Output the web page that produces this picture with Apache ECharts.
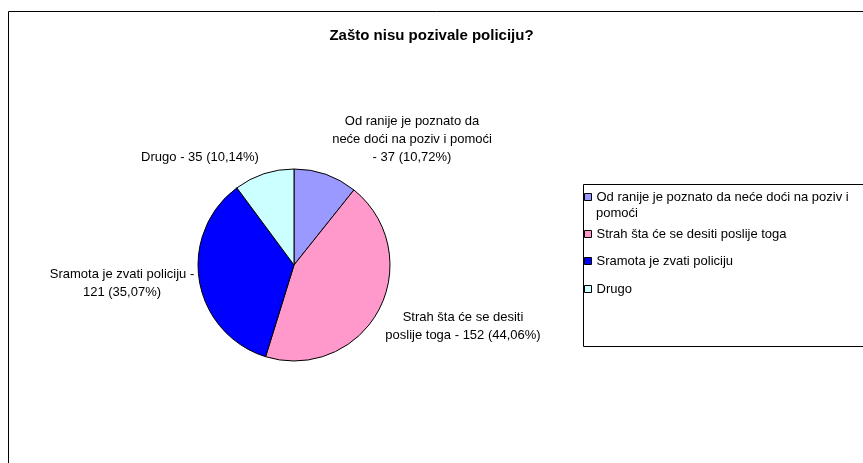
<!DOCTYPE html>
<html>
<head>
<meta charset="utf-8">
<title>Zašto nisu pozivale policiju?</title>
<script src="https://cdn.jsdelivr.net/npm/echarts@6/dist/echarts.min.js"></script>
<style>
    html, body {margin: 0; padding: 0; background: #fff;}
    #chart {width: 863px; height: 463px;}
</style>
</head>
<body>
<div id="chart"></div>
<script>
// podaci
var categories = [
    'Od ranije je poznato da neće doći na poziv i pomoći',
    'Strah šta će se desiti poslije toga',
    'Sramota je zvati policiju',
    'Drugo'
];
var counts = [37, 152, 121, 35];
var colors = ['#9999FF', '#FF99CC', '#0000FF', '#CCFFFF'];

// koliko riječi ide u koji red natpisa
var labelWordsPerLine = [[5, 6, 3], [5, 5], [5, 2], [5]];
// središta natpisa (x, y)
var labelPos = [[412, 139], [463, 326], [122, 283], [200, 157]];
// vrh svake legende, i koliko riječi stane u prvi red legende
var legendTop = [189, 226, 253, 281];
var legendWordsFirstLine = 10;

var FONT = '"Liberation Sans", Arial, sans-serif';

var total = counts.reduce(function (a, b) { return a + b; }, 0);

function pct(v) {
    return (v / total * 100).toFixed(2).replace('.', ',') + '%';
}

function labelText(params) {
    var s = params.name + ' - ' + params.value + ' (' + pct(params.value) + ')';
    var words = s.split(' ');
    var lines = [];
    var k = 0;
    labelWordsPerLine[params.dataIndex].forEach(function (n) {
        lines.push(words.slice(k, k + n).join(' '));
        k += n;
    });
    return lines.join('\n');
}

// prvi red legende; ostatak ide ispod kao poseban tekst
function legendFirst(name) {
    return name.split(' ').slice(0, legendWordsFirstLine).join(' ');
}
function legendRest(name) {
    return name.split(' ').slice(legendWordsFirstLine).join(' ');
}

var pieData = categories.map(function (name, i) {
    return {name: name, value: counts[i], itemStyle: {color: colors[i]}};
});

var legends = categories.map(function (name, i) {
    return {
        data: [name],
        orient: 'vertical',
        left: 584,
        top: legendTop[i],
        icon: 'rect',
        itemWidth: 7,
        itemHeight: 7,
        itemGap: 0,
        padding: 0,
        itemStyle: {borderColor: '#000', borderWidth: 1},
        selectedMode: false,
        formatter: legendFirst,
        textStyle: {
            fontFamily: FONT,
            fontSize: 13,
            color: '#000',
            lineHeight: 16
        }
    };
});

var myChart = echarts.init(document.getElementById('chart'));
myChart.setOption({
    backgroundColor: '#fff',
    animation: false,
    color: colors,
    title: {
        text: 'Zašto nisu pozivale policiju?',
        left: 'center',
        top: 23,
        textStyle: {fontFamily: FONT, fontSize: 15, fontWeight: 'bold', color: '#000'}
    },
    legend: legends,
    graphic: [
        {
            type: 'rect',
            shape: {x: 8.5, y: 11.5, width: 1000, height: 1000},
            style: {fill: null, stroke: '#000', lineWidth: 1},
            silent: true,
            z: -1
        },
        {
            type: 'rect',
            shape: {x: 583.5, y: 184.5, width: 400, height: 162},
            style: {fill: null, stroke: '#000', lineWidth: 1},
            silent: true,
            z: -1
        },
        {
            type: 'text',
            x: 596,
            y: 207,
            style: {
                text: legendRest(categories[0]),
                font: '13px ' + FONT,
                fill: '#000'
            },
            silent: true
        }
    ],
    series: [
        {
            type: 'pie',
            center: [294, 265],
            radius: 96,
            startAngle: 90,
            clockwise: true,
            data: pieData,
            itemStyle: {borderColor: '#000', borderWidth: 1},
            label: {
                show: true,
                position: 'outside',
                formatter: labelText,
                fontFamily: FONT,
                fontSize: 13,
                lineHeight: 18,
                color: '#000',
                align: 'center',
                overflow: 'none'
            },
            labelLine: {show: false},
            labelLayout: function (params) {
                var p = labelPos[params.dataIndex];
                return {x: p[0], y: p[1], align: 'center', verticalAlign: 'middle'};
            },
            emphasis: {disabled: true}
        }
    ]
});
</script>
</body>
</html>
